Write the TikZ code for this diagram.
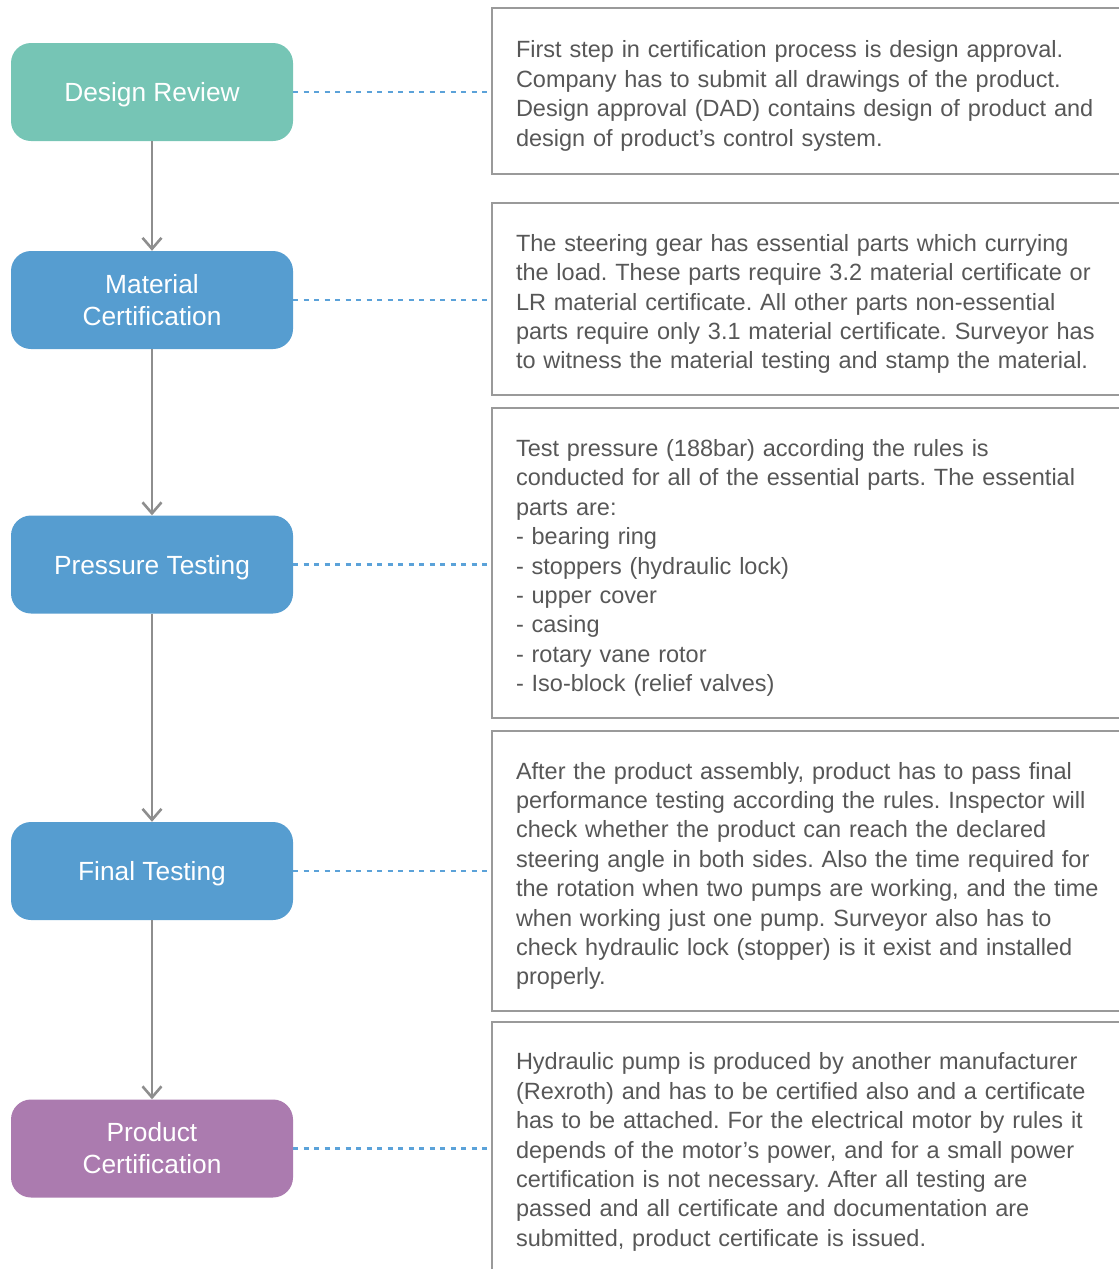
\documentclass[tikz,border=0pt]{standalone}
\usepackage{fontspec}
\setmainfont{Liberation Sans}
\usetikzlibrary{arrows.meta}
\definecolor{stepgreen}{HTML}{76C5B5}
\definecolor{stepblue}{HTML}{569DD0}
\definecolor{steppurple}{HTML}{AB7BAF}
\definecolor{framegray}{HTML}{9A9A9A}
\definecolor{notetext}{HTML}{575757}
\definecolor{flowgray}{HTML}{8E8E8E}
\definecolor{linkblue}{HTML}{5BA2D9}
\frenchspacing
\begin{document}
\begin{tikzpicture}[x=1pt,y=-1pt,
  stepbox/.style={rounded corners=20pt, minimum width=282pt, minimum height=98pt,
    text=white, align=center, inner sep=0pt, font=\fontsize{26.3}{32}\selectfont},
  oneline/.style={text depth=0pt},
  notebox/.style={draw=framegray, line width=2pt, anchor=west, minimum width=640pt,
    text width=592pt, inner xsep=23pt, align=left, text=notetext,
    font=\fontsize{23.5}{29.4}\selectfont,
    execute at begin node={\rule{0pt}{27pt}}},
  flow/.style={draw=flowgray, line width=2.6pt,
    -{Straight Barb[length=11pt,width=19pt]}},
  link/.style={draw=linkblue, line width=2.3pt, dash pattern=on 5pt off 5.5pt}]
\useasboundingbox (0,0) rectangle (1119,1269);
\clip (0,0) rectangle (1119,1269);

% process steps
\node[stepbox, oneline, fill=stepgreen] (s1) at (152,92)    {Design Review};
\node[stepbox, fill=stepblue]           (s2) at (152,300)   {Material\\Certification};
\node[stepbox, oneline, fill=stepblue]  (s3) at (152,564.5) {Pressure Testing};
\node[stepbox, oneline, fill=stepblue]  (s4) at (152,871)   {Final Testing};
\node[stepbox, fill=steppurple]         (s5) at (152,1148.5) {Product\\Certification};

% descriptions
\node[notebox, minimum height=166pt] (n1) at (491,91) {First step in certification process is design approval.\\
Company has to submit all drawings of the product.\\
Design approval (DAD) contains design of product and\\
design of product’s control system.};
\node[notebox, minimum height=192pt] (n2) at (491,299) {The steering gear has essential parts which currying\\
the load. These parts require 3.2 material certificate or\\
LR material certificate. All other parts non-essential\\
parts require only 3.1 material certificate. Surveyor has\\
to witness the material testing and stamp the material.};
\node[notebox, minimum height=310pt] (n3) at (491,563) {Test pressure (188bar) according the rules is\\
conducted for all of the essential parts. The essential\\
parts are:\\
- bearing ring\\
- stoppers (hydraulic lock)\\
- upper cover\\
- casing\\
- rotary vane rotor\\
- Iso-block (relief valves)};
\node[notebox, minimum height=280pt] (n4) at (491,871) {After the product assembly, product has to pass final\\
performance testing according the rules. Inspector will\\
check whether the product can reach the declared\\
steering angle in both sides. Also the time required for\\
the rotation when two pumps are working, and the time\\
when working just one pump. Surveyor also has to\\
check hydraulic lock (stopper) is it exist and installed\\
properly.};
\node[notebox, minimum height=250pt] (n5) at (491,1147) {Hydraulic pump is produced by another manufacturer\\
(Rexroth) and has to be certified also and a certificate\\
has to be attached. For the electrical motor by rules it\\
depends of the motor’s power, and for a small power\\
certification is not necessary. After all testing are\\
passed and all certificate and documentation are\\
submitted, product certificate is issued.};

% flow between steps
\draw[flow] (s1.south) -- (s2.north);
\draw[flow] (s2.south) -- (s3.north);
\draw[flow] (s3.south) -- (s4.north);
\draw[flow] (s4.south) -- (s5.north);

% links from steps to descriptions
\foreach \i in {1,...,5}
  \draw[link] (s\i.east) -- (s\i.east -| n\i.west);
\end{tikzpicture}
\end{document}
